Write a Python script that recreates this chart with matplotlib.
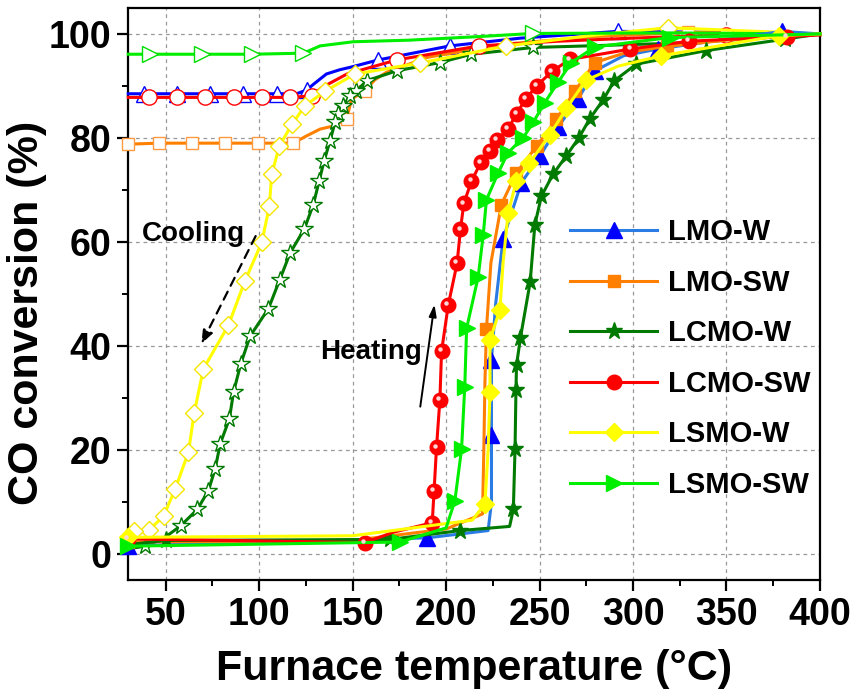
import matplotlib
matplotlib.use("Agg")
import matplotlib.pyplot as plt
import matplotlib.transforms as mtrans
from matplotlib.ticker import MultipleLocator

plt.rcParams["font.family"] = ["Liberation Sans", "DejaVu Sans"]
plt.rcParams["font.weight"] = "bold"

# ---------- data ----------
names = ["LMO-W", "LMO-SW", "LCMO-W", "LCMO-SW", "LSMO-W", "LSMO-SW"]

# LMO-W
lmo_w_heat_T = [30, 110, 190, 222.5, 224.3, 224.3, 224.3, 226.5, 230.5, 240.3, 250.1, 259.9,
                270.6, 279.6, 295, 313.4, 350, 379.8, 400]
lmo_w_heat_y = [1.6, 2.3, 3.1, 4.5, 10, 22.8, 37.3, 48, 60.6, 71.4, 76.5, 82.1,
                87.5, 92.9, 95.8, 97.1, 99.0, 100.5, 100]
lmo_w_heat_mk = [0, 2, 5, 6, 8, 9, 10, 11, 12, 13, 15, 17]
lmo_w_cool_T = [400, 350, 292, 240, 202, 163.7, 150, 143, 136, 129, 125.4, 120,
                109.4, 91.6, 73.8, 56, 38.2, 30]
lmo_w_cool_y = [100, 100.3, 100.5, 99.2, 97.7, 95.0, 93.7, 93.1, 92.3, 90.3, 89.2, 88.5,
                88.5, 88.5, 88.5, 88.5, 88.5, 88.5]
lmo_w_cool_mk = [2, 4, 5, 10, 12, 13, 14, 15, 16]

# LMO-SW
lmo_sw_heat_T = [30, 150, 200, 219.5, 220.2, 220.8, 221.6, 224, 229.6, 237.6, 248.4, 259,
                 268.9, 279.6, 297, 318, 350, 380, 400]
lmo_sw_heat_y = [2.3, 2.6, 4.8, 7.7, 20, 33, 43.2, 56, 67.2, 73.3, 78.4, 83.6,
                 89.0, 94.5, 96.5, 97.6, 98.8, 99.5, 100]
lmo_sw_heat_mk = [0, 6, 8, 9, 10, 11, 12, 13, 15]
lmo_sw_cool_T = [400, 329.4, 280, 230, 190, 168, 162, 156.6, 149.5, 146.8, 139.7, 132.6,
                 125.4, 118.3, 99.6, 81.8, 63.9, 46.2, 30]
lmo_sw_cool_y = [100, 100.3, 99.5, 98, 95.5, 92.6, 91.2, 89.1, 87.5, 83.7, 82.3, 81.7,
                 80.4, 79.0, 79.0, 79.0, 79.0, 79.0, 78.8]
lmo_sw_cool_mk = [1, 7, 9, 13, 14, 15, 16, 17, 18]

# LCMO-W
lcmo_w_heat_T = [30, 50, 170, 207.5, 234, 236, 236.9, 237.4, 237.7, 239.8, 245, 247.5,
                 251, 257.2, 264.4, 271, 276.9, 284, 290, 301.8, 339.2, 381.2, 400]
lcmo_w_heat_y = [1.8, 2.6, 2.8, 4.5, 5.3, 8.6, 20.2, 31.6, 36.3, 41.6, 52.3, 63.3,
                 68.8, 73.0, 76.6, 80.0, 83.7, 87.3, 91.0, 94.2, 96.8, 99.0, 100]
lcmo_w_heat_mk = [1, 2, 3] + list(range(5, 22))
lcmo_w_cool_T = [400, 330, 266, 246.6, 213.6, 196.7, 173.5, 157.5, 152, 148.6, 145, 142.3,
                 140.6, 137.9, 134.7, 132.1, 129, 124.2, 116.6, 111, 105, 95.2, 90.2,
                 86.3, 84.1, 79.2, 76.5, 72.9, 67, 58, 48.9, 39, 30]
lcmo_w_cool_y = [100, 98.3, 97.6, 97.4, 96.1, 94.5, 92.9, 91.0, 89.0, 88.1, 86.2, 84.6,
                 83.0, 79.4, 75.5, 71.7, 67.2, 62.5, 57.9, 52.7, 47.2, 41.9, 36.6,
                 31.1, 26.0, 21.2, 16.4, 12.2, 8.6, 5.4, 3.0, 1.5, 1.0]
lcmo_w_cool_mk = list(range(3, 30)) + [31]

# LCMO-SW
lcmo_sw_heat_T = [30, 156.6, 172, 192.6, 193.6, 194.9, 196.7, 197.6, 201.2, 205.9, 207.7,
                  209.5, 213.6, 218.6, 223.4, 227.3, 233.2, 237.7, 242.7, 248.4, 256.7,
                  266.2, 298.6, 330, 382.5, 400]
lcmo_sw_heat_y = [2.9, 2.2, 4.2, 6.0, 12.2, 20.5, 29.7, 39.0, 47.9, 55.9, 62.4,
                  67.4, 71.7, 75.3, 77.5, 79.6, 81.7, 84.7, 87.5, 90.0, 92.8,
                  95.1, 97.1, 98.6, 99.5, 99.8]
lcmo_sw_heat_mk = [0, 1] + list(range(3, 25))
lcmo_sw_cool_T = [400, 350, 300, 260, 217.6, 173.6, 147, 133.6, 128.2, 116.6, 101.5, 86.3,
                  71.2, 56, 40.9, 30]
lcmo_sw_cool_y = [100, 99.8, 99.2, 98.6, 97.7, 95.0, 92.3, 89.7, 88.1, 87.8, 87.8, 87.8,
                  87.8, 87.8, 87.8, 87.8]
lcmo_sw_cool_mk = [1, 4, 5, 8, 9, 10, 11, 12, 13, 14]

# LSMO-W
lsmo_w_heat_T = [30, 150, 214, 220.8, 222.5, 223.5, 223.5, 228.8, 230.5, 233.2, 237.6, 244.5,
                 255.5, 264.4, 274.8, 292, 315.1, 378.3, 400]
lsmo_w_heat_y = [3.2, 3.5, 6.5, 9.6, 20, 31.1, 41.1, 47.0, 56, 65.5, 71.8, 75.1,
                 80.6, 85.7, 91.1, 93.8, 95.8, 99.7, 100]
lsmo_w_heat_mk = [0, 3, 5, 6, 7, 9, 10, 11, 12, 13, 14, 16, 17]
lsmo_w_cool_T = [400, 318.7, 280, 232.2, 186, 151.3, 135.3, 124.6, 117.5, 110.8, 106.7, 105.5,
                 101.4, 92.3, 83.6, 70.2, 65.3, 62.2, 55.1, 48.9, 41.2, 32.8, 30]
lsmo_w_cool_y = [100, 101.2, 99.8, 97.7, 94.4, 92.3, 89.0, 86.2, 82.6, 78.4, 73.0, 66.9,
                 59.9, 52.4, 44.0, 35.6, 27.2, 19.6, 12.5, 7.3, 4.6, 4.4, 3.5]
lsmo_w_cool_mk = [1] + list(range(3, 22))

# LSMO-SW
lsmo_sw_heat_T = [30, 175.2, 200, 204.7, 208.3, 210, 211, 217.2, 219.9, 221.6, 227.9, 233.2,
                  241.2, 246.6, 252.8, 259.9, 267, 279.6, 319.6, 400]
lsmo_sw_heat_y = [1.5, 2.3, 5.0, 10.2, 20.2, 32.1, 43.4, 53.3, 61.4, 68.1, 73.3, 77.2,
                  80.0, 83.0, 86.8, 90.7, 94.5, 97.5, 99.3, 100]
lsmo_sw_heat_mk = [0, 1] + list(range(3, 19))
lsmo_sw_cool_T = [400, 320, 246.6, 218, 180, 150.4, 132.6, 123.7, 96.1, 69.4, 41.7, 30]
lsmo_sw_cool_y = [100, 100.2, 100.1, 99.5, 98.8, 98.5, 97.7, 96.3, 96.1, 96.1, 96.1, 96.1]
lsmo_sw_cool_mk = [2, 7, 8, 9, 10]

heat = [
    (lmo_w_heat_T, lmo_w_heat_y, lmo_w_heat_mk),
    (lmo_sw_heat_T, lmo_sw_heat_y, lmo_sw_heat_mk),
    (lcmo_w_heat_T, lcmo_w_heat_y, lcmo_w_heat_mk),
    (lcmo_sw_heat_T, lcmo_sw_heat_y, lcmo_sw_heat_mk),
    (lsmo_w_heat_T, lsmo_w_heat_y, lsmo_w_heat_mk),
    (lsmo_sw_heat_T, lsmo_sw_heat_y, lsmo_sw_heat_mk),
]
cool = [
    (lmo_w_cool_T, lmo_w_cool_y, lmo_w_cool_mk),
    (lmo_sw_cool_T, lmo_sw_cool_y, lmo_sw_cool_mk),
    (lcmo_w_cool_T, lcmo_w_cool_y, lcmo_w_cool_mk),
    (lcmo_sw_cool_T, lcmo_sw_cool_y, lcmo_sw_cool_mk),
    (lsmo_w_cool_T, lsmo_w_cool_y, lsmo_w_cool_mk),
    (lsmo_sw_cool_T, lsmo_sw_cool_y, lsmo_sw_cool_mk),
]

# ---------- styles ----------
heat_line = ["#2a7be4", "#ff8000", "#007a00", "#ff0000", "#ffff00", "#00ee00"]
cool_line = ["#0000ff", "#ff8000", "#007a00", "#ff0000", "#ffff00", "#00ee00"]
mk_color = ["#0000ff", "#ff8000", "#007a00", "#ff0000", "#ffff00", "#00ee00"]
cool_edge = ["#0000ff", "#ff9a40", "#007a00", "#ff0000", "#f5e600", "#00dd00"]
markers = ["^", "s", "*", "o", "D", ">"]
msizes = [11, 8.5, 12.5, 10.5, 9, 11.5]

fig = plt.figure(figsize=(8.54, 6.97), dpi=100)
ax = fig.add_axes([0.1502, 0.1679, 0.8099, 0.8207])

for i in range(6):
    T, y, mk = cool[i]
    ax.plot(T, y, color=cool_line[i], lw=2.2, marker=markers[i], ms=msizes[i] + 0.5,
            markevery=mk, mfc="white", mec=cool_edge[i], mew=1.0,
            clip_on=False, zorder=3)

handles = []
for i in range(6):
    T, y, mk = heat[i]
    ln, = ax.plot(T, y, color=heat_line[i], lw=2.2, marker=markers[i], ms=msizes[i],
                  markevery=mk, mfc=mk_color[i], mec=mk_color[i], mew=1.0,
                  clip_on=False, zorder=4, label=names[i])
    handles.append(ln)

# glossy highlight on the red spheres
T, y, mk = heat[3]
hl = mtrans.offset_copy(ax.transData, fig=fig, x=-1.3, y=1.3, units="points")
ax.plot([T[k] for k in mk], [y[k] for k in mk], ls="none", marker="o", ms=3.2,
        mfc="#ffd6d6", mec="none", transform=hl, clip_on=False, zorder=5)

ax.set_xlim(30, 400)
ax.set_ylim(-5, 105)
ax.xaxis.set_major_locator(MultipleLocator(50))
ax.xaxis.set_minor_locator(MultipleLocator(25))
ax.yaxis.set_major_locator(MultipleLocator(20))
ax.yaxis.set_minor_locator(MultipleLocator(10))
ax.grid(True, which="major", ls=(0, (3, 3)), lw=0.9, color="#999999")
ax.set_axisbelow(True)

for s in ax.spines.values():
    s.set_linewidth(1.6)
ax.tick_params(which="major", direction="out", length=8, width=1.6, labelsize=27, pad=4)
ax.tick_params(which="minor", direction="out", length=4.5, width=1.4)
for lab in ax.get_xticklabels() + ax.get_yticklabels():
    lab.set_fontweight("bold")

ax.set_xlabel("Furnace temperature (°C)", fontsize=31, fontweight="bold", va="center")
ax.set_ylabel("CO conversion (%)", fontsize=31, fontweight="bold", va="center")
ax.xaxis.set_label_coords(0.5, -0.155)
ax.yaxis.set_label_coords(-0.146, 0.467)

ax.legend(handles=handles, loc="upper left", bbox_to_anchor=(0.6386, 0.632),
          frameon=False, handlelength=3.0, handletextpad=0.35,
          labelspacing=0.77, borderpad=0, borderaxespad=0,
          prop={"weight": "bold", "size": 21})

# annotations
ax.text(65, 61.5, "Cooling", fontsize=20, fontweight="bold", ha="center", va="center")
ax.annotate("", xy=(68.4, 39.9), xytext=(98.8, 61.6),
            arrowprops=dict(arrowstyle="-|>,head_length=0.8,head_width=0.3",
                            ls=(0, (4, 3)), lw=1.6, color="black"))
ax.text(160, 38.8, "Heating", fontsize=20, fontweight="bold", ha="center", va="center")
ax.annotate("", xy=(194, 48.5), xytext=(186, 27.8),
            arrowprops=dict(arrowstyle="-|>,head_length=0.7,head_width=0.22",
                            lw=1.4, color="black"))

fig.savefig("out.png", dpi=100)
